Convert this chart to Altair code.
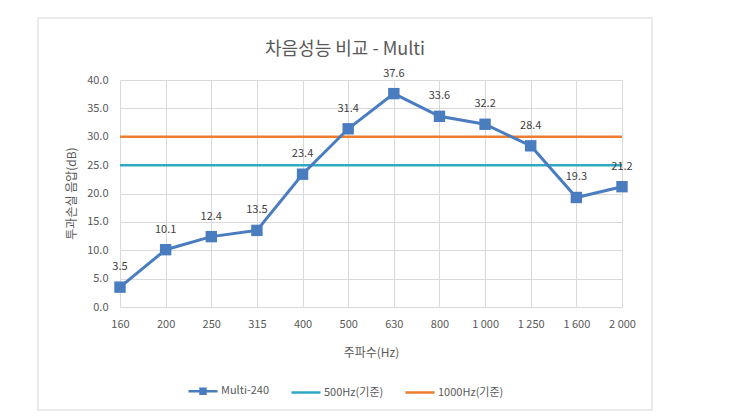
import altair as alt
import pandas as pd

freqs = ["160", "200", "250", "315", "400", "500", "630", "800", "1 000", "1 250", "1 600", "2 000"]
multi = [3.5, 10.1, 12.4, 13.5, 23.4, 31.4, 37.6, 33.6, 32.2, 28.4, 19.3, 21.2]
ref_names = ["500Hz(기준)", "1000Hz(기준)"]
ref_values = [25.0, 30.0]
series_names = ["Multi-240", "500Hz(기준)", "1000Hz(기준)"]
series_colors = ["#4A7DC0", "#2FA9C4", "#ED7D31"]
y_ticks = [0, 5, 10, 15, 20, 25, 30, 35, 40]

FONT = "Noto Sans CJK KR"
TXT = "#595959"
GRID = "#D9D9D9"

df = pd.DataFrame({"freq": freqs, "value": multi})
ref = pd.DataFrame({"series": ref_names, "value": ref_values})
leg_df = pd.DataFrame({"series": series_names, "value": [multi[0]] + ref_values})

color_scale = alt.Scale(domain=series_names, range=series_colors)
shape_scale = alt.Scale(domain=series_names,
                        range=["M-1,0H1M-0.17,-0.17H0.17V0.17H-0.17Z", "M-1,0H1", "M-1,0H1"])

x_enc = alt.X(
    "freq:N", sort=freqs,
    scale=alt.Scale(type="point", padding=0),
    axis=alt.Axis(
        title="주파수(Hz)", grid=True, gridColor=GRID, ticks=False, domain=False,
        labelAngle=0, labelPadding=11, labelColor=TXT, labelFontSize=11, labelFont=FONT,
        titleFont=FONT, titleFontSize=12, titleFontWeight="normal", titleColor=TXT,
        titleY=45, titleBaseline="middle",
    ),
)
y_scale = alt.Scale(domain=[0, 40], nice=False)
y_axis = alt.Axis(
    title="투과손실 음압(dB)", values=y_ticks, format=".1f", grid=True, gridColor=GRID,
    ticks=False, domain=False, labelPadding=12, labelColor=TXT, labelFontSize=11, labelFont=FONT,
    titleFont=FONT, titleFontSize=12, titleFontWeight="normal", titleColor=TXT,
    titleX=-49, titleY=113, titleAngle=-90, titleBaseline="middle", titleAlign="center",
)


def y_enc():
    return alt.Y("value:Q", scale=y_scale, axis=y_axis)


legend = alt.Legend(
    title=None, orient="none", legendX=67, legendY=295, direction="horizontal",
    symbolSize=841, symbolStrokeWidth=2.5, symbolOpacity=1, columnPadding=16, labelOffset=2,
    labelFont=FONT, labelFontSize=11, labelColor=TXT,
)

base = alt.Chart(df)

frame = alt.Chart(alt.Data(values=[{"k": 1}])).mark_rect(
    fill="transparent", stroke="#E4E4E4", strokeWidth=1.5
).encode(
    x=alt.value(-82), x2=alt.value(532), y=alt.value(-62), y2=alt.value(330)
)

rule500 = alt.Chart(ref).transform_filter(
    alt.datum.series == ref_names[0]
).mark_rule(strokeWidth=2.5, color=series_colors[1]).encode(y=y_enc())

rule1000 = alt.Chart(ref).transform_filter(
    alt.datum.series == ref_names[1]
).mark_rule(strokeWidth=2.5, color=series_colors[2]).encode(y=y_enc())

line = base.mark_line(strokeWidth=3, color=series_colors[0]).encode(x=x_enc, y=y_enc())

pts = base.mark_square(size=130, opacity=1, filled=True, color=series_colors[0]).encode(
    x=x_enc, y=y_enc()
)

leg = alt.Chart(leg_df).mark_point(filled=True, fill=series_colors[0], opacity=0).encode(
    y=y_enc(),
    stroke=alt.Stroke("series:N", scale=color_scale, legend=legend),
    shape=alt.Shape("series:N", scale=shape_scale, legend=legend),
)

labels = base.mark_text(dy=-20, font=FONT, fontSize=11, color="#404040").encode(
    x=x_enc,
    y=y_enc(),
    text=alt.Text("value:Q", format=".1f"),
)

chart = alt.layer(frame, rule500, rule1000, line, pts, labels, leg).properties(
    width=502, height=227,
    autosize=alt.AutoSizeParams(type="none"),
    padding={"left": 112, "top": 72, "right": 110, "bottom": 110},
    title=alt.Title("차음성능 비교 - Multi", font=FONT, fontSize=18, fontWeight="normal",
                    color=TXT, anchor="middle", frame="group", dx=-26, offset=-42),
).configure_view(stroke=None).configure(background="white")

chart.save("out.html", embed_options={"renderer": "svg", "actions": False})
